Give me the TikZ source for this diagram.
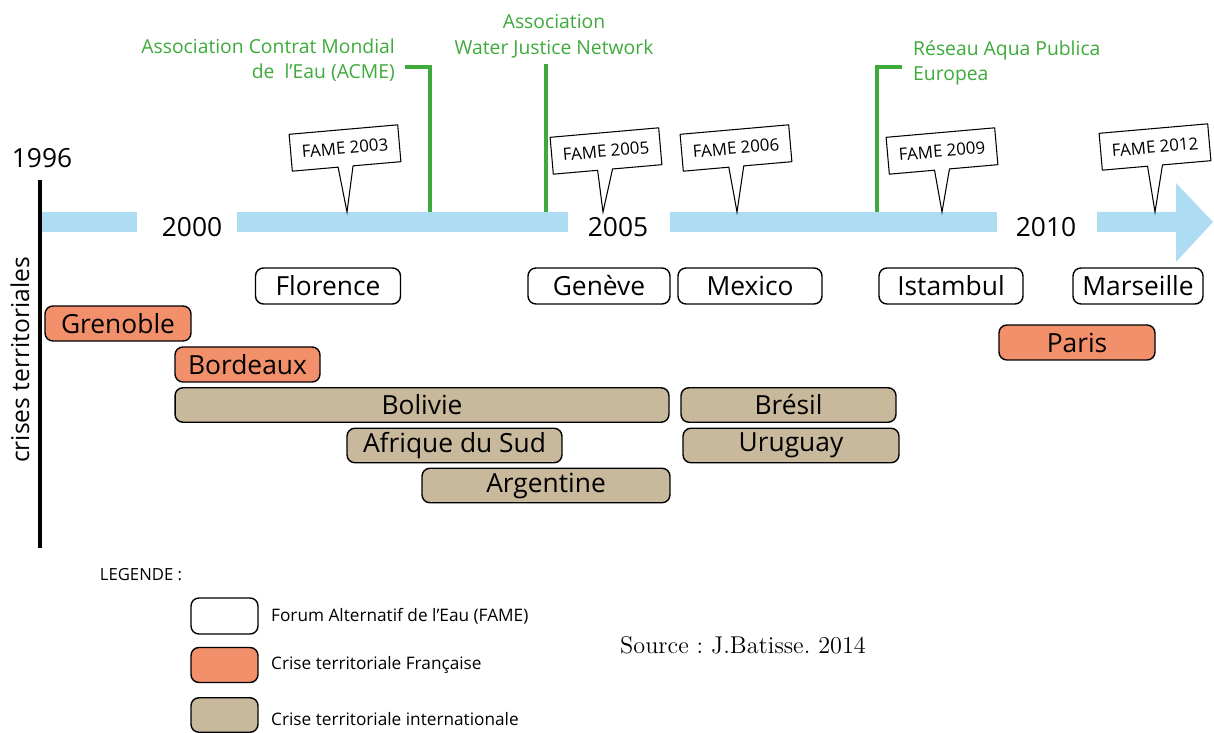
\documentclass[tikz,border=0pt]{standalone}
\usepackage{fontspec}
\setsansfont{Open Sans}
\usetikzlibrary{shapes.callouts}

\definecolor{bandblue}{HTML}{AEDDF3}
\definecolor{crisefr}{HTML}{F1906B}
\definecolor{criseint}{HTML}{C9B99C}
\definecolor{assogreen}{HTML}{3DAA3A}

\begin{document}
\begin{tikzpicture}[x=0.02cm,y=-0.02cm,
	every node/.style={font=\sffamily},
	crisebox/.style={draw,line width=0.8pt,rounded corners=4.5pt,inner sep=1pt,
		font=\sffamily\fontsize{15}{17}\selectfont},
	forum/.style={crisebox,fill=white,minimum height=0.72cm},
	frcrise/.style={crisebox,fill=crisefr,minimum height=0.7cm},
	intcrise/.style={crisebox,fill=criseint,minimum height=0.69cm},
	fame/.style={rectangle callout,draw,fill=white,line width=0.6pt,rotate=5,
		minimum width=2.18cm,minimum height=0.74cm,callout pointer width=0.3cm,
		font=\sffamily\fontsize{9.6}{11}\selectfont},
	asso/.style={assogreen,line width=1.8pt},
	assotext/.style={text=assogreen,font=\sffamily\fontsize{11}{14.5}\selectfont},
	year/.style={font=\sffamily\fontsize{15}{17}\selectfont},
	legtext/.style={font=\sffamily\fontsize{9.8}{11}\selectfont,anchor=west}]

	\useasboundingbox (0,0) rectangle (1214,733);

	% frise
	\fill[bandblue] (42,212) rectangle (137,232);
	\fill[bandblue] (237,212) rectangle (568,232);
	\fill[bandblue] (670,212) rectangle (997,232);
	\fill[bandblue] (1097,212) -- (1176,212) -- (1176,183) -- (1213,222)
		-- (1176,262) -- (1176,232) -- (1097,232) -- cycle;
	\draw[line width=2.3pt] (40,180) -- (40,548);

	\node[year](y1996) at (42,158){1996};
	\node[year](y2000) at (192,227){2000};
	\node[year](y2005) at (618,227){2005};
	\node[year](y2010) at (1046,227){2010};
	\node[rotate=90,font=\sffamily\fontsize{14}{16}\selectfont](axe) at (20,360){crises territoriales};

	% associations
	\node[assotext,align=right,anchor=east](acme) at (401,60){Association Contrat Mondial\\de\ \ l'Eau (ACME)};
	\node[assotext,align=center](wjn) at (554,36){Association\\Water Justice Network};
	\node[assotext,align=left,anchor=west](apu) at (907,63){Réseau Aqua Publica\\Europea};
	\coordinate(k1) at (405,67);
	\coordinate(k2) at (902,67);
	\coordinate(t1) at (430,212);
	\coordinate(t2) at (546,212);
	\coordinate(t3) at (877,212);
	\draw[asso] (k1) -| (t1);
	\draw[asso] (wjn.south -| t2) -- (t2);
	\draw[asso] (k2) -| (t3);

	% FAME
	\coordinate(p2003) at (347,212);
	\coordinate(p2005) at (603,212);
	\coordinate(p2006) at (737,212);
	\coordinate(p2009) at (942,212);
	\coordinate(p2012) at (1155,212);
	\node[fame,callout absolute pointer={(p2003)}](f2003) at (345,148){FAME 2003};
	\node[fame,callout absolute pointer={(p2005)}](f2005) at (606,151){FAME 2005};
	\node[fame,callout absolute pointer={(p2006)}](f2006) at (736,148){FAME 2006};
	\node[fame,callout absolute pointer={(p2009)}](f2009) at (942,151){FAME 2009};
	\node[fame,callout absolute pointer={(p2012)}](f2012) at (1155,147){FAME 2012};

	% forums
	\node[forum,minimum width=2.9cm](flo) at (328,286){Florence};
	\node[forum,minimum width=2.84cm](gen) at (599,286){Genève};
	\node[forum,minimum width=2.88cm](mex) at (750,286){Mexico};
	\node[forum,minimum width=2.88cm](ist) at (951,286){Istambul};
	\node[forum,minimum width=2.6cm](mar) at (1138,286){Marseille};

	% crises
	\node[frcrise,minimum width=2.92cm](gre) at (118,323.5){Grenoble};
	\node[frcrise,minimum width=2.9cm](bor) at (247.5,364.5){Bordeaux};
	\node[frcrise,minimum width=3.12cm](par) at (1077,342.5){Paris};
	\node[intcrise,minimum width=9.88cm](bol) at (422,405){Bolivie};
	\node[intcrise,minimum width=4.3cm](afs) at (454.5,445.5){Afrique du Sud};
	\node[intcrise,minimum width=4.96cm](arg) at (546,485.5){Argentine};
	\node[intcrise,minimum width=4.3cm](bre) at (788.5,405){Brésil};
	\node[intcrise,minimum width=4.32cm](uru) at (791,445.5){Uruguay};

	% legende
	\node[font=\sffamily\fontsize{9.5}{11}\selectfont](leg) at (141,575){LEGENDE :};
	\node[forum,minimum width=1.34cm](l1) at (224.5,616){};
	\node[frcrise,minimum width=1.34cm](l2) at (224.5,665){};
	\node[intcrise,minimum width=1.34cm](l3) at (224.5,715){};
	\node[legtext](lt1) at (265,616){Forum Alternatif de l'Eau (FAME)};
	\node[legtext](lt2) at (265,665){Crise territoriale Française};
	\node[legtext](lt3) at (265,719){Crise territoriale internationale};
	\node[font=\rmfamily\fontsize{13.8}{15}\selectfont\frenchspacing](src) at (743,645){Source : J.Batisse. 2014};

\end{tikzpicture}
\end{document}
